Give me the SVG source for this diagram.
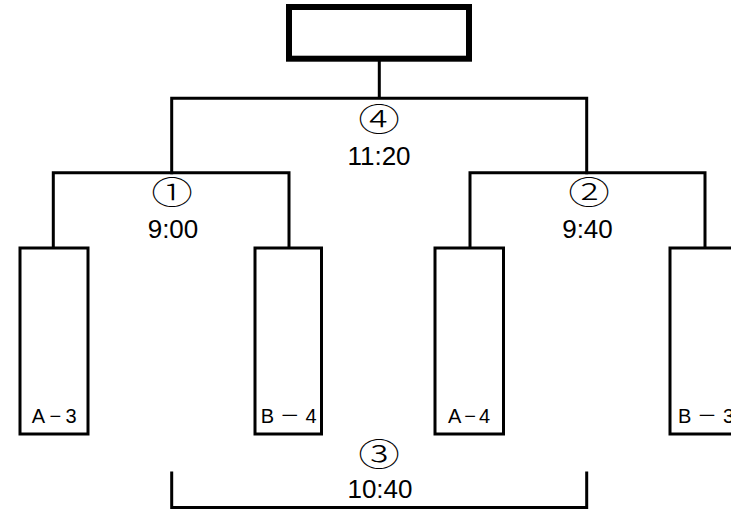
<svg xmlns="http://www.w3.org/2000/svg" width="731" height="511" viewBox="0 0 731 511">
<style>
.ln{fill:none;stroke:#000;stroke-width:3;stroke-linecap:square}
.box{fill:#fff;stroke:#000;stroke-width:3}
.top{fill:#fff;stroke:#000;stroke-width:6}
.t{font-family:"Liberation Sans","Noto Sans CJK JP",sans-serif;font-size:26px;fill:#000;text-anchor:middle}
.c{font-family:"Noto Sans CJK JP",sans-serif;font-size:32px;font-weight:300;fill:#000;text-anchor:middle}
.lb{font-family:"Liberation Sans","Noto Sans CJK JP",sans-serif;font-size:20px;fill:#000}
</style>
<rect width="731" height="511" fill="#fff"/>
<g id="connectors">
<path class="ln" d="M379.3,62 V98.3 M171.7,172.7 V98.3 H586.7 V172.7"/>
<path class="ln" d="M53.3,248 V172.7 H289 V248"/>
<path class="ln" d="M470,248 V172.7 H705 V248"/>
<path class="ln" d="M171.7,473 V507.5 H586.7 V473"/>
</g>
<g id="final"><rect class="top" x="289" y="7" width="180" height="51.7"/></g>
<g id="team-a3"><rect class="box" x="20" y="248" width="68" height="186"/><text class="lb" x="31.7" y="423" textLength="45">A−3</text></g>
<g id="team-b4"><rect class="box" x="255" y="248" width="66.5" height="186"/><text class="lb" x="260.7" y="423" textLength="56">B－4</text></g>
<g id="team-a4"><rect class="box" x="435" y="248" width="68.5" height="186"/><text class="lb" x="448" y="423" textLength="42">A−4</text></g>
<g id="team-b3"><rect class="box" x="670" y="248" width="68" height="186"/><text class="lb" x="678" y="423" textLength="56">B－3</text></g>
<g id="match4"><text class="c" transform="translate(379,131) scale(1.3,1)">④</text><text class="t" x="379" y="165">11:20</text></g>
<g id="match1"><text class="c" transform="translate(172,204) scale(1.3,1)">①</text><text class="t" x="173" y="238">9:00</text></g>
<g id="match2"><text class="c" transform="translate(589,204) scale(1.3,1)">②</text><text class="t" x="587.5" y="238">9:40</text></g>
<g id="match3"><text class="c" transform="translate(379,466) scale(1.3,1)">③</text><text class="t" x="380" y="498">10:40</text></g>
</svg>
